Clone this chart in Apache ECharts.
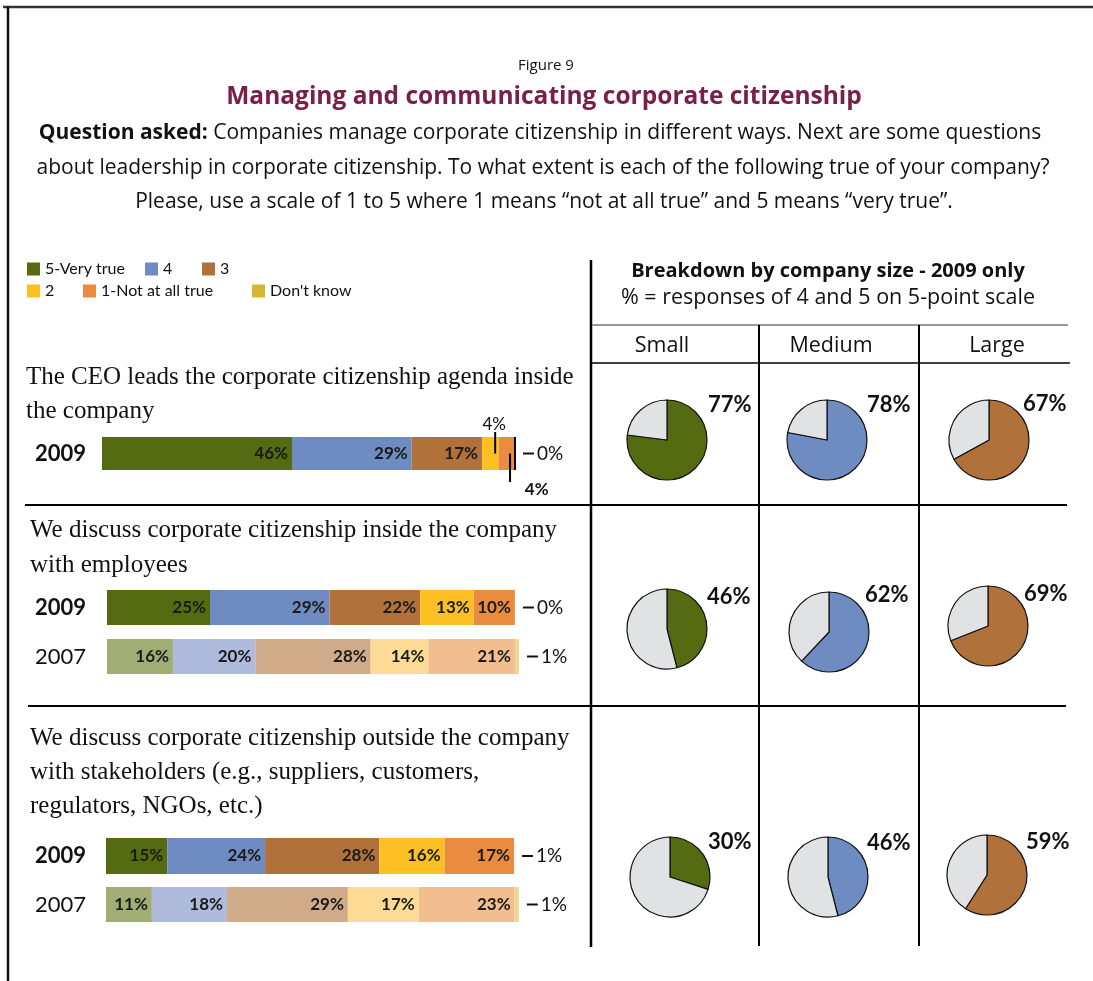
<!DOCTYPE html>
<html>
<head>
<meta charset="utf-8">
<script src="https://cdn.jsdelivr.net/npm/echarts@6/dist/echarts.min.js"></script>
<style>
html,body{margin:0;padding:0;background:#fff;}
#chart{width:1093px;height:981px;}
</style>
</head>
<body>
<div id="chart"></div>
<script>
// ---------- DATA ----------
const categories = ['5-Very true', '4', '3', '2', '1-Not at all true', "Don't know"];
const statements = [
  ['The CEO leads the corporate citizenship agenda inside', 'the company'],
  ['We discuss corporate citizenship inside the company', 'with employees'],
  ['We discuss corporate citizenship outside the company', 'with stakeholders (e.g., suppliers, customers,', 'regulators, NGOs, etc.)']
];
const barYears = ['2009', '2009', '2007', '2009', '2007'];
const ceo2009 = [46, 29, 17, 4, 4, 0];
const employees2009 = [25, 29, 22, 13, 10, 0];
const employees2007 = [16, 20, 28, 14, 21, 1];
const stakeholders2009 = [15, 24, 28, 16, 17, 1];
const stakeholders2007 = [11, 18, 29, 17, 23, 1];
const sizeLabels = ['Small', 'Medium', 'Large'];
const pieCEO = [77, 78, 67];
const pieEmployees = [46, 62, 69];
const pieStakeholders = [30, 46, 59];

// ---------- STYLE ----------
const colors2009 = ['#546B12', '#6E8CC1', '#B0713B', '#FDC024', '#E98C3F', '#D6B72B'];
const colors2007 = ['#A0AD75', '#AEBBDC', '#D0AB8A', '#FEDB94', '#F2BE90', '#EAD98F'];
const pieColors = ['#546B12', '#6E8CC1', '#B0713B'];
const pieRest = '#E1E2E4';
const SANS = '"Open Sans", Lato, sans-serif';
const LATO = 'Lato, "Open Sans", sans-serif';
const SERIF = '"Liberation Serif", "DejaVu Serif", serif';

const barRows = [ceo2009, employees2009, employees2007, stakeholders2009, stakeholders2007];
const barGrids = [
  {left: 102, top: 437, width: 413, height: 33},
  {left: 107, top: 590, width: 412, height: 35},
  {left: 107, top: 639, width: 412, height: 35},
  {left: 106, top: 838, width: 408, height: 36},
  {left: 106, top: 887, width: 417, height: 35}
];
const pieRows = [pieCEO, pieEmployees, pieStakeholders];
const pieCenters = [
  [[667, 440], [827, 440], [989, 440]],
  [[667, 629], [829, 632], [988, 626]],
  [[670, 877], [828, 877], [987, 875]]
];
const pieLabelPos = [
  [[708, 405], [867, 405], [1023, 404]],
  [[707, 597], [865, 595], [1024, 594]],
  [[708, 842], [867, 843], [1026, 842]]
];

const chart = echarts.init(document.getElementById('chart'), null, {renderer: 'canvas'});

const grids = [], xAxes = [], yAxes = [], series = [];
barRows.forEach((row, r) => {
  grids.push(Object.assign({containLabel: false}, barGrids[r]));
  xAxes.push({type: 'value', gridIndex: r, min: 0, max: 100, show: false});
  const bold = barYears[r] === '2009';
  yAxes.push({
    type: 'category', gridIndex: r, data: [barYears[r]],
    axisLine: {show: false}, axisTick: {show: false}, splitLine: {show: false},
    axisLabel: {
      align: 'left', margin: barGrids[r].left - 35,
      fontFamily: LATO, fontSize: 22, fontWeight: bold ? 'bold' : 'normal', color: '#111'
    }
  });
  const cols = bold ? colors2009 : colors2007;
  row.forEach((v, c) => {
    let label;
    if (c === 5) {
      label = {show: true, position: 'right', distance: 8, formatter: '{d| }{s| }{c}%',
        fontFamily: LATO, fontSize: 19, color: '#111',
        rich: {
          d: {width: 11, height: 2, backgroundColor: '#111', fontSize: 2, lineHeight: 2, verticalAlign: 'middle'},
          s: {width: 3, fontSize: 2}
        }};
    } else if (v >= 8) {
      label = {show: true, position: 'insideRight', distance: 4, formatter: '{c}%',
        fontFamily: LATO, fontSize: 17, fontWeight: 'bold', color: '#1a1a1a'};
    } else {
      label = {show: false};
    }
    if (r === 0 && c === 3) {
      label = {show: true, position: 'top', distance: 4, offset: [4, 0], formatter: '{c}%',
        fontFamily: LATO, fontSize: 17, color: '#111'};
    }
    if (r === 0 && c === 4) {
      label = {show: true, position: 'bottom', distance: 11, offset: [30, 0], formatter: '{c}%',
        fontFamily: LATO, fontSize: 17, fontWeight: 'bold', color: '#111'};
    }
    series.push({
      type: 'bar', name: categories[c], xAxisIndex: r, yAxisIndex: r, stack: 's' + r,
      barWidth: '100%', silent: true, animation: false,
      itemStyle: {color: cols[c]},
      label: label,
      data: [v]
    });
  });
});

pieRows.forEach((row, r) => {
  row.forEach((v, k) => {
    series.push({
      type: 'pie', center: pieCenters[r][k], radius: 40, startAngle: 90, clockwise: true,
      silent: true, animation: false, label: {show: false}, labelLine: {show: false},
      itemStyle: {borderColor: '#111', borderWidth: 1.2},
      data: [
        {value: v, itemStyle: {color: pieColors[k]}},
        {value: 100 - v, itemStyle: {color: pieRest}}
      ]
    });
  });
});

// legends (one per item for exact placement)
const legendPos = [[27, 261], [145, 261], [202, 261], [27, 283], [83, 283], [252, 283]];
const legends = categories.map((name, i) => ({
  data: [name], left: legendPos[i][0], top: legendPos[i][1], orient: 'horizontal',
  icon: 'rect', itemWidth: 13, itemHeight: 13, itemGap: 0, selectedMode: false, padding: 0,
  textStyle: {fontFamily: LATO, fontSize: 16, color: '#111', padding: [0, 0, 0, 0]}
}));

// text & lines
const g = [];
function txt(x, y, text, o) {
  g.push({type: 'text', x: x, y: y, silent: true, style: Object.assign({
    text: text, fontFamily: SANS, fontSize: 20, fill: '#111', align: 'left', verticalAlign: 'middle'
  }, o || {})});
}
function line(x1, y1, x2, y2, w, c, z) {
  g.push({type: 'line', silent: true, z: z || 0, shape: {x1, y1, x2, y2}, style: {stroke: c || '#000', lineWidth: w}});
}
txt(546, 66, 'Figure 9', {align: 'center', fontSize: 15});
txt(544, 97, 'Managing and communicating corporate citizenship', {align: 'center', fontSize: 24.5, fontWeight: 'bold', fill: '#7A2048'});
g.push({type: 'text', x: 540, y: 133, silent: true, style: {
  text: '{b|Question asked:} Companies manage corporate citizenship in different ways. Next are some questions',
  rich: {b: {fontWeight: 'bold', fontFamily: SANS, fontSize: 21, fill: '#111'}},
  fontFamily: SANS, fontSize: 21, fill: '#111', align: 'center', verticalAlign: 'middle'}});
txt(543, 168, 'about leadership in corporate citizenship. To what extent is each of the following true of your company?', {align: 'center', fontSize: 21});
txt(544, 202, 'Please, use a scale of 1 to 5 where 1 means “not at all true” and 5 means “very true”.', {align: 'center', fontSize: 21});

const stmtY = [[377, 411], [530, 565], [738, 772, 806]];
const stmtX = [26, 30, 30];
statements.forEach((lines, i) => lines.forEach((t, j) => txt(stmtX[i], stmtY[i][j], t, {fontFamily: SERIF, fontSize: 25})));

txt(828, 271, 'Breakdown by company size - 2009 only', {align: 'center', fontWeight: 'bold', fontSize: 20});
txt(828, 298, '% = responses of 4 and 5 on 5-point scale', {align: 'center', fontSize: 21.5});
const colCenters = [662, 831, 997];
sizeLabels.forEach((s, i) => txt(colCenters[i], 346, s, {align: 'center', fontSize: 21.5}));

pieRows.forEach((row, r) => row.forEach((v, k) =>
  txt(pieLabelPos[r][k][0], pieLabelPos[r][k][1], v + '%', {fontFamily: LATO, fontSize: 22, fontWeight: 'bold'})));

line(3, 7, 1093, 7, 2.5, '#333');
line(8, 7, 8, 981, 2.5, '#111');
line(591, 260, 591, 947, 2.5);
line(592, 325, 1068, 325, 1.5, '#777');
line(592, 363, 1070, 363, 1.5);
line(759, 325, 759, 946, 2);
line(919, 325, 919, 946, 2);
line(25, 505, 1067, 505, 2);
line(28, 706, 1066, 706, 2);

const option = {
  backgroundColor: '#fff',
  animation: false,
  grid: grids, xAxis: xAxes, yAxis: yAxes, legend: legends, series: series,
  graphic: g
};
chart.setOption(option);

// leader lines for CEO small segments (computed through the axis scale)
function px(r, v) { return chart.convertToPixel({gridIndex: r}, [v, barYears[r]]); }
const cum = ceo2009.slice(0, 3).reduce((a, b) => a + b, 0);
const gr = barGrids[0];
const pTop = px(0, cum + ceo2009[3] * 0.8);
const pBot = px(0, cum + ceo2009[3] + ceo2009[4] * 0.7);
const pEnd = px(0, cum + ceo2009[3] + ceo2009[4]);
line(pTop[0], gr.top - 5, pTop[0], pTop[1], 2, '#000', 100);
line(pBot[0], pBot[1], pBot[0], gr.top + gr.height + 12, 2, '#000', 100);
line(pEnd[0], gr.top, pEnd[0], gr.top + gr.height, 2, '#000', 100);
chart.setOption({graphic: g});
</script>
</body>
</html>
